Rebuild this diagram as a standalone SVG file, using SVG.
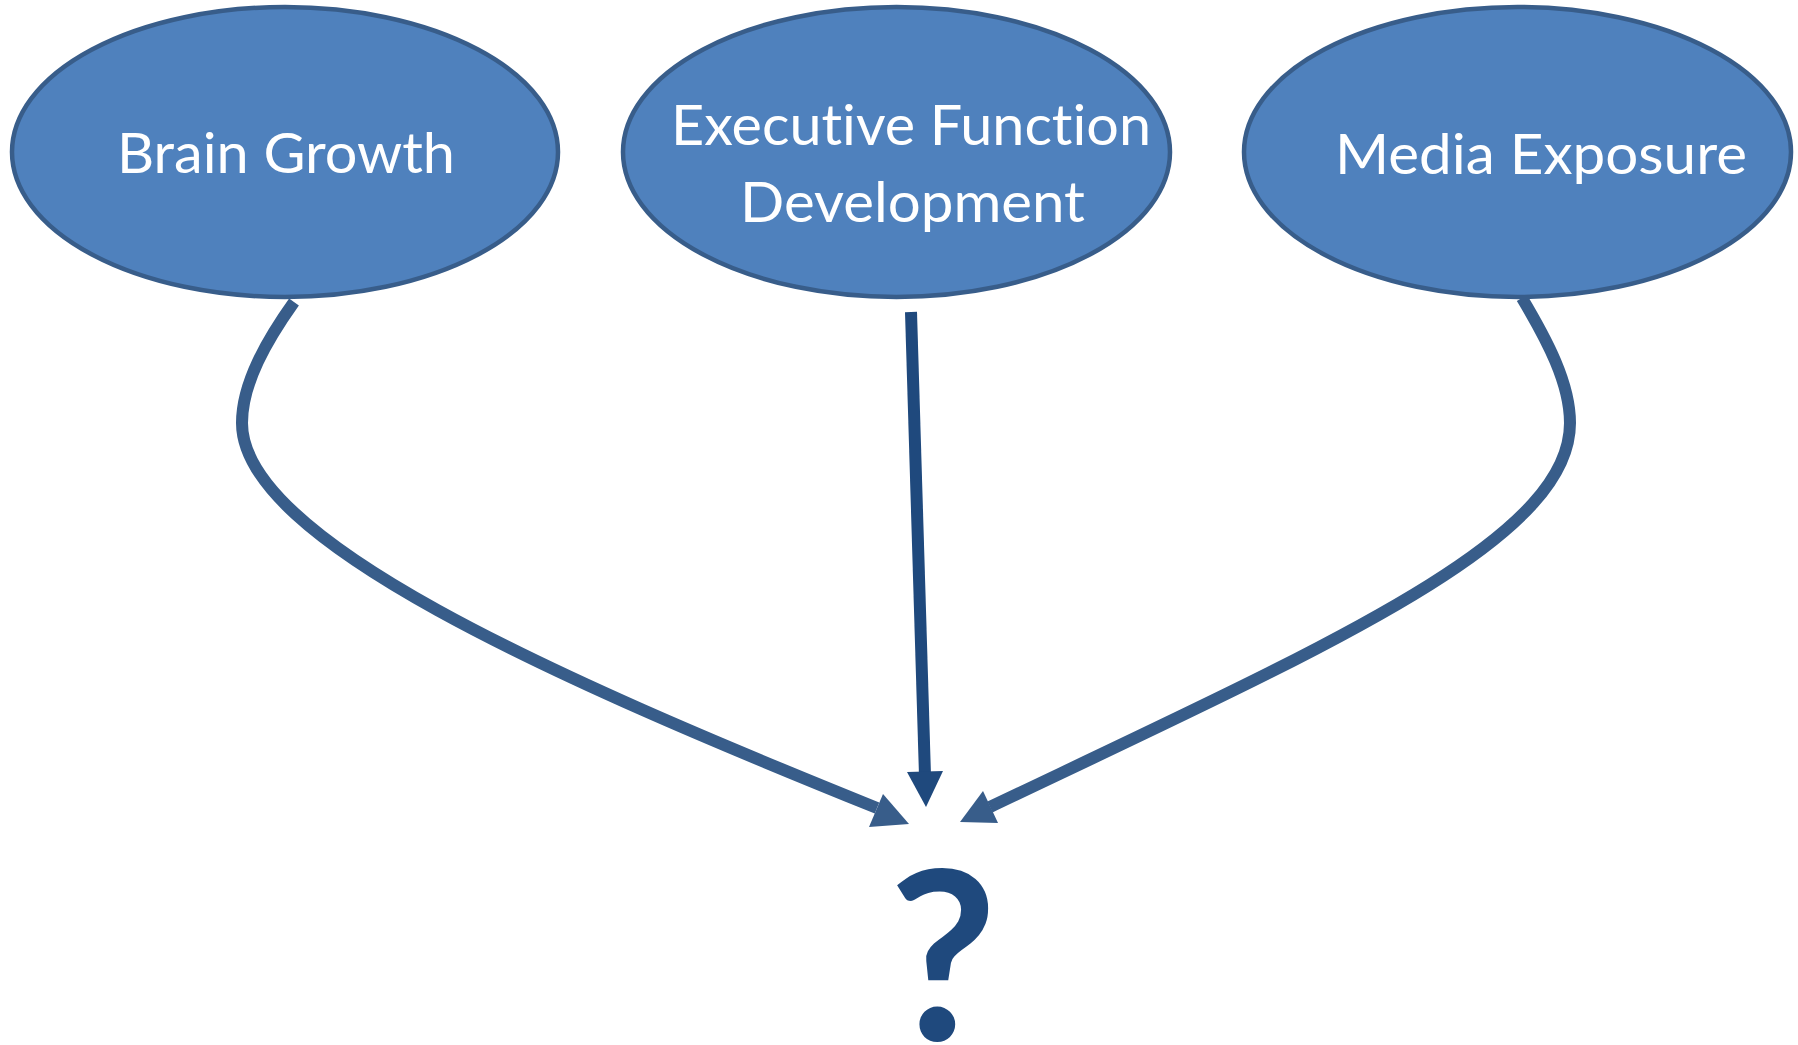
<svg xmlns="http://www.w3.org/2000/svg" width="1798" height="1045" viewBox="0 0 1798 1045">
<style>
.node ellipse{fill:#4f81bd;stroke:#385d8a;stroke-width:4.5}
.lbl{font-family:Lato,"Open Sans","Liberation Sans",sans-serif;font-size:56px;fill:#ffffff;font-variant-ligatures:none;font-feature-settings:"liga" 0}
.curve{fill:none;stroke:#385d8a;stroke-width:12}
.head{fill:#385d8a}
.straight{fill:none;stroke:#1f497d;stroke-width:12}
.head2{fill:#1f497d}
.q{font-family:Lato,"Open Sans","Liberation Sans",sans-serif;font-size:236px;fill:#1f497d;font-weight:700}
</style>
<rect width="1798" height="1045" fill="#ffffff"/>
<g id="connectors">
<path class="curve" d="M294 302 C267 340 242 383 242 423 C242 540 552 677 877 808"/>
<polygon class="head" points="883,794 909,824 869,827"/>
<path class="straight" d="M911 312 L925 776"/>
<polygon class="head2" points="907,772 943,771 926,807"/>
<path class="curve" d="M1522 298 C1547 340 1570 383 1570 423 C1570 540 1332 644 990 807"/>
<polygon class="head" points="983,791 960,822 998,823"/>
</g>
<g id="node-brain" class="node">
<ellipse cx="285" cy="152" rx="273" ry="145"/>
<text class="lbl" x="117" y="173" textLength="338" lengthAdjust="spacingAndGlyphs">Brain Growth</text>
</g>
<g id="node-exec" class="node">
<ellipse cx="896.5" cy="152" rx="273.5" ry="145"/>
<text class="lbl" x="671" y="145" textLength="480" lengthAdjust="spacingAndGlyphs">Executive Function</text>
<text class="lbl" x="740" y="222" textLength="345" lengthAdjust="spacingAndGlyphs">Development</text>
</g>
<g id="node-media" class="node">
<ellipse cx="1517.5" cy="152" rx="273.5" ry="145"/>
<text class="lbl" x="1335" y="174" textLength="412" lengthAdjust="spacingAndGlyphs">Media Exposure</text>
</g>
<g id="node-question">
<text class="q" x="943" y="1040" text-anchor="middle">?</text>
</g>
</svg>
